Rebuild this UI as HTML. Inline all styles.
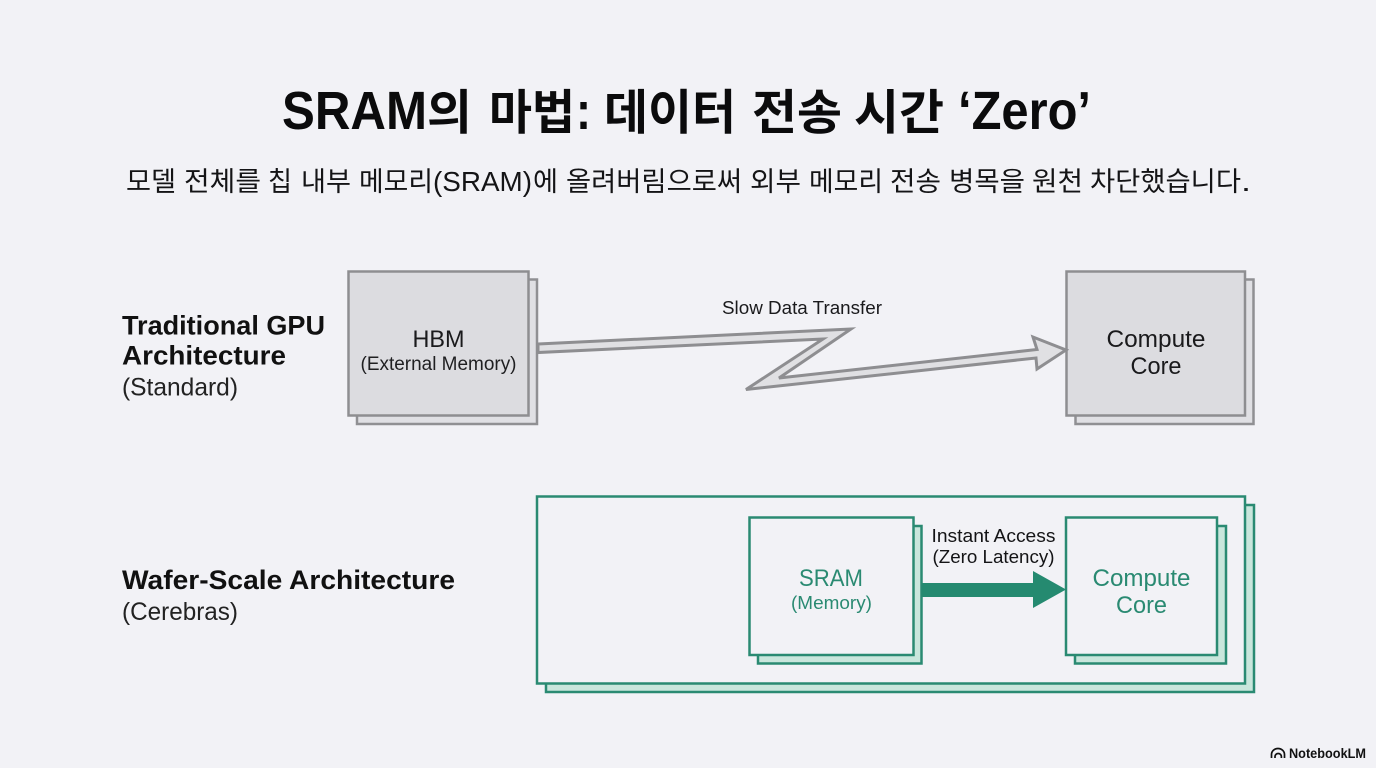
<!DOCTYPE html>
<html lang="ko">
<head>
<meta charset="utf-8">
<title>SRAM의 마법</title>
<style>
html,body{margin:0;padding:0;background:#f2f2f6;}
svg{display:block;}
text{font-family:"Liberation Sans","Noto Sans CJK KR",sans-serif;}
.t{font-size:48px;font-weight:700;fill:#0b0b0c;}
.tl{font-size:54px;font-weight:700;fill:#0b0b0c;}
.s{font-size:27px;fill:#141416;}
.sl{font-size:28px;fill:#141416;}
</style>
</head>
<body>
<svg width="1376" height="768" viewBox="0 0 1376 768" xmlns="http://www.w3.org/2000/svg">
<rect width="1376" height="768" fill="#f2f2f6"/>

<!-- Title -->
<text class="tl" x="282" y="129" textLength="145" lengthAdjust="spacingAndGlyphs">SRAM</text>
<text class="t" x="427" y="129" textLength="45" lengthAdjust="spacingAndGlyphs">의</text>
<text class="t" x="489" y="129" textLength="86" lengthAdjust="spacingAndGlyphs">마법</text>
<text class="tl" x="576" y="129" textLength="15" lengthAdjust="spacingAndGlyphs">:</text>
<text class="t" x="604" y="129" textLength="132" lengthAdjust="spacingAndGlyphs">데이터</text>
<text class="t" x="752" y="129" textLength="90" lengthAdjust="spacingAndGlyphs">전송</text>
<text class="t" x="854" y="129" textLength="90" lengthAdjust="spacingAndGlyphs">시간</text>
<text class="tl" x="958" y="129" textLength="133" lengthAdjust="spacingAndGlyphs">‘Zero’</text>

<!-- Subtitle -->
<text class="s" x="126" y="191" textLength="50" lengthAdjust="spacingAndGlyphs">모델</text>
<text class="s" x="184" y="191" textLength="77" lengthAdjust="spacingAndGlyphs">전체를</text>
<text class="s" x="268" y="191" textLength="24" lengthAdjust="spacingAndGlyphs">칩</text>
<text class="s" x="301" y="191" textLength="50" lengthAdjust="spacingAndGlyphs">내부</text>
<text class="s" x="359" y="191" textLength="74" lengthAdjust="spacingAndGlyphs">메모리</text>
<text class="sl" x="433" y="191" textLength="99" lengthAdjust="spacingAndGlyphs">(SRAM)</text>
<text class="s" x="533" y="191" textLength="25" lengthAdjust="spacingAndGlyphs">에</text>
<text class="s" x="566" y="191" textLength="176" lengthAdjust="spacingAndGlyphs">올려버림으로써</text>
<text class="s" x="750" y="191" textLength="51" lengthAdjust="spacingAndGlyphs">외부</text>
<text class="s" x="809" y="191" textLength="74" lengthAdjust="spacingAndGlyphs">메모리</text>
<text class="s" x="890" y="191" textLength="51" lengthAdjust="spacingAndGlyphs">전송</text>
<text class="s" x="949" y="191" textLength="76" lengthAdjust="spacingAndGlyphs">병목을</text>
<text class="s" x="1032" y="191" textLength="51" lengthAdjust="spacingAndGlyphs">원천</text>
<text class="s" x="1090" y="191" textLength="151" lengthAdjust="spacingAndGlyphs">차단했습니다</text>
<text class="sl" x="1241" y="191" textLength="10" lengthAdjust="spacingAndGlyphs">.</text>

<!-- Left labels -->
<text x="122" y="334.5" font-size="27" font-weight="700" fill="#111" textLength="203" lengthAdjust="spacingAndGlyphs">Traditional GPU</text>
<text x="122" y="364.5" font-size="27" font-weight="700" fill="#111" textLength="164" lengthAdjust="spacingAndGlyphs">Architecture</text>
<text x="122" y="395.5" font-size="25" fill="#222" textLength="116" lengthAdjust="spacingAndGlyphs">(Standard)</text>
<text x="122" y="589" font-size="27" font-weight="700" fill="#111" textLength="333" lengthAdjust="spacingAndGlyphs">Wafer-Scale Architecture</text>
<text x="122" y="620" font-size="25" fill="#222" textLength="116" lengthAdjust="spacingAndGlyphs">(Cerebras)</text>

<!-- HBM -->
<rect x="357" y="279.5" width="180" height="144.5" fill="#e0e0e4" stroke="#909093" stroke-width="2.5"/>
<rect x="348.5" y="271.5" width="180" height="144" fill="#dcdce0" stroke="#8e8e91" stroke-width="2.5"/>
<text x="438.5" y="347" font-size="24" fill="#1a1a1c" text-anchor="middle" textLength="52" lengthAdjust="spacingAndGlyphs">HBM</text>
<text x="438.5" y="370" font-size="19" fill="#1f1f21" text-anchor="middle" textLength="156" lengthAdjust="spacingAndGlyphs">(External Memory)</text>

<!-- Compute core (top) -->
<rect x="1075.5" y="279.5" width="178" height="144.5" fill="#e0e0e4" stroke="#909093" stroke-width="2.5"/>
<rect x="1066.5" y="271.5" width="178.5" height="144" fill="#dcdce0" stroke="#8e8e91" stroke-width="2.5"/>
<text x="1156" y="347" font-size="24" fill="#1a1a1c" text-anchor="middle" textLength="99" lengthAdjust="spacingAndGlyphs">Compute</text>
<text x="1156" y="374" font-size="24" fill="#1a1a1c" text-anchor="middle" textLength="51" lengthAdjust="spacingAndGlyphs">Core</text>

<!-- Slow arrow -->
<polygon points="538,344 851,329 779,378 1037,349.5 1033,337 1066,350 1037,369 1036,358 746,389.5 823,339 538,352.5" fill="#e0e0e3" stroke="#8e8e91" stroke-width="3" stroke-linejoin="miter"/>
<text x="802" y="314" font-size="18" fill="#1a1a1c" text-anchor="middle" textLength="160" lengthAdjust="spacingAndGlyphs">Slow Data Transfer</text>

<!-- Wafer outer -->
<rect x="546" y="505" width="708" height="187" fill="#c9e6dc" stroke="#2a8a72" stroke-width="2.5"/>
<rect x="537" y="496.5" width="708" height="187" fill="#f2f2f6" stroke="#2a8a72" stroke-width="2.5"/>

<!-- SRAM -->
<rect x="758" y="526" width="163.5" height="137.5" fill="#c9e6dc" stroke="#2a8a72" stroke-width="2.5"/>
<rect x="749.5" y="517.5" width="164" height="137.5" fill="#f2f2f6" stroke="#2a8a72" stroke-width="2.5"/>
<text x="831" y="586" font-size="24" fill="#2a8a72" text-anchor="middle" textLength="64" lengthAdjust="spacingAndGlyphs">SRAM</text>
<text x="831.5" y="609" font-size="18" fill="#2a8a72" text-anchor="middle" textLength="81" lengthAdjust="spacingAndGlyphs">(Memory)</text>

<!-- Compute core (bottom) -->
<rect x="1075" y="526" width="151" height="137.5" fill="#c9e6dc" stroke="#2a8a72" stroke-width="2.5"/>
<rect x="1066" y="517.5" width="151" height="137.5" fill="#f2f2f6" stroke="#2a8a72" stroke-width="2.5"/>
<text x="1141.5" y="586" font-size="24" fill="#2a8a72" text-anchor="middle" textLength="98" lengthAdjust="spacingAndGlyphs">Compute</text>
<text x="1141.5" y="613" font-size="24" fill="#2a8a72" text-anchor="middle" textLength="51" lengthAdjust="spacingAndGlyphs">Core</text>

<!-- Fast arrow -->
<polygon points="922,583 1033,583 1033,571 1066,589.5 1033,608 1033,597 922,597" fill="#258a70"/>
<text x="993.5" y="542" font-size="18.5" fill="#141416" text-anchor="middle" textLength="124" lengthAdjust="spacingAndGlyphs">Instant Access</text>
<text x="993.5" y="563" font-size="18.5" fill="#141416" text-anchor="middle" textLength="122" lengthAdjust="spacingAndGlyphs">(Zero Latency)</text>

<!-- NotebookLM badge -->
<g fill="none" stroke="#111" stroke-width="1.7">
  <path d="M1271.5 758 v-3.5 a6.5 6 0 0 1 13 0 v3.5"/>
  <path d="M1275 758 v-1.5 a3.2 3 0 0 1 6.4 0 v1.5"/>
</g>
<text x="1289" y="758" font-size="14" font-weight="700" fill="#111" textLength="77" lengthAdjust="spacingAndGlyphs">NotebookLM</text>
</svg>
</body>
</html>
